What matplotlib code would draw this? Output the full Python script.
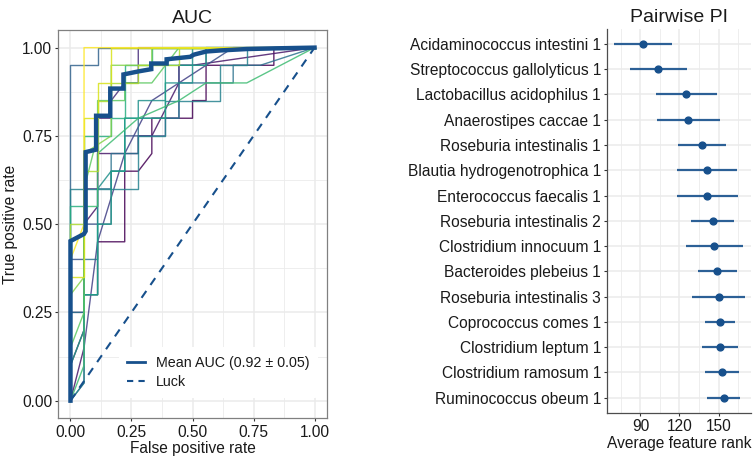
import numpy as np
import matplotlib.pyplot as plt
from matplotlib.ticker import MultipleLocator

plt.rcParams['font.family'] = ['Liberation Sans', 'DejaVu Sans']

# ROC curves of the single folds, in counts (18 negatives, 20 positives)
n_neg, n_pos = 18, 20
fold_fp = [
    [0, 0, 1, 1, 2, 2, 4, 4, 5, 6, 6, 9, 9, 10, 10, 15, 15, 18],
    [0, 1, 1, 2, 2, 5, 5, 6, 8, 8, 9, 18],
    [0, 0, 1, 1, 2, 2, 3, 3, 4, 5, 5, 18],
    [0, 1, 1, 2, 2, 4, 4, 6, 6, 10, 10, 18],
    [0, 0, 1, 1, 3, 3, 4, 4, 7, 7, 8, 8, 10, 12, 18],
    [0, 0, 2, 2, 18],
    [0, 0, 1, 1, 2, 2, 3, 3, 5, 5, 8, 8, 12, 12, 14, 18],
    [0, 0, 5, 5, 7, 7, 11, 11, 13, 13, 18],
    [0, 1, 1, 2, 2, 3, 4, 4, 5, 5, 7, 7, 9, 9, 18],
    [0, 0, 1, 1, 2, 2, 3, 3, 4, 4, 7, 7, 10, 10, 18],
    [0, 0, 1, 1, 3, 3, 4, 4, 6, 6, 18],
    [0, 1, 1, 2, 2, 5, 8, 10, 13, 18],
    [0, 0, 1, 1, 2, 2, 4, 4, 6, 8, 18],
    [0, 0, 1, 1, 3, 3, 6, 6, 18],
    [0, 0, 1, 1, 2, 2, 3, 3, 5, 5, 8, 8, 18],
    [0, 0, 1, 1, 2, 2, 3, 3, 18],
    [0, 0, 1, 1, 18],
]
fold_tp = [
    [0, 2, 4, 6, 6, 9, 9, 13, 13, 14, 16, 16, 17, 17, 19, 19, 20, 20],
    [0, 3, 10, 11, 14, 14, 15, 15, 18, 19, 19, 20],
    [0, 5, 5, 12, 12, 16, 16, 17, 18, 18, 20, 20],
    [0, 1, 3, 9, 9, 14, 14, 17, 17, 19, 20, 20],
    [0, 8, 8, 10, 10, 13, 13, 15, 15, 16, 16, 19, 19, 20, 20],
    [0, 19, 19, 20, 20],
    [0, 5, 5, 8, 8, 12, 12, 14, 14, 16, 16, 18, 18, 19, 19, 20],
    [0, 12, 12, 15, 15, 17, 17, 19, 19, 20, 20],
    [0, 1, 6, 6, 12, 13, 13, 16, 16, 17, 17, 18, 18, 20, 20],
    [0, 2, 4, 6, 6, 10, 10, 13, 13, 16, 16, 19, 19, 20, 20],
    [0, 11, 11, 15, 15, 16, 16, 19, 19, 20, 20],
    [0, 2, 11, 11, 14, 16, 17, 18, 18, 20],
    [0, 3, 5, 12, 15, 17, 17, 18, 18, 20, 20],
    [0, 6, 7, 14, 15, 19, 19, 20, 20],
    [0, 10, 10, 13, 13, 17, 17, 18, 18, 19, 19, 20, 20],
    [0, 7, 7, 16, 16, 18, 18, 20, 20],
    [0, 8, 10, 20, 20],
]

mean_fpr = [0, 0, 0.055, 0.062, 0.062, 0.105, 0.105, 0.163, 0.163, 0.217, 0.217,
            0.281, 0.331, 0.331, 0.394, 0.394, 0.491, 0.505, 0.556, 0.613, 0.722, 0.844, 1.0]
mean_tpr = [0, 0.452, 0.472, 0.48, 0.704, 0.711, 0.807, 0.807, 0.884, 0.884, 0.924,
            0.933, 0.939, 0.955, 0.955, 0.967, 0.974, 0.98, 0.989, 0.992, 0.996, 0.998, 1.0]
mean_auc, sd_auc = 0.92, 0.05

features = ['Acidaminococcus intestini 1', 'Streptococcus gallolyticus 1',
            'Lactobacillus acidophilus 1', 'Anaerostipes caccae 1',
            'Roseburia intestinalis 1', 'Blautia hydrogenotrophica 1',
            'Enterococcus faecalis 1', 'Roseburia intestinalis 2',
            'Clostridium innocuum 1', 'Bacteroides plebeius 1',
            'Roseburia intestinalis 3', 'Coprococcus comes 1',
            'Clostridium leptum 1', 'Clostridium ramosum 1', 'Ruminococcus obeum 1']
rank_mean = [92.0, 103.9, 124.9, 126.4, 137.1, 141.2, 141.5, 145.5,
             146.8, 149.1, 150.1, 150.9, 151.1, 152.6, 154.2]
rank_low = [69.6, 82.0, 101.7, 102.5, 118.9, 118.2, 117.8, 128.9,
            125.0, 134.0, 129.7, 139.4, 137.1, 139.4, 141.5]
rank_high = [114.2, 126.0, 148.8, 151.1, 155.4, 164.2, 165.0, 161.9,
             168.7, 164.2, 170.3, 162.7, 165.0, 165.8, 166.5]

blue = '#17508c'
grid_c = '#ebebeb'
txt_c = '#1a1a1a'
fs = 11.2

fig = plt.figure(figsize=(7.53, 4.57), dpi=100)

# ---- left: ROC ----
ax = fig.add_axes([0.0774, 0.0847, 0.3565, 0.8497])
colors = plt.cm.viridis(np.linspace(0, 1, len(fold_fp)))
for fp, tp, c in zip(fold_fp, fold_tp, colors):
    ax.plot(np.array(fp) / n_neg, np.array(tp) / n_pos, color=c, lw=1.0, alpha=0.85, zorder=2)
ax.plot([0, 1], [0, 1], ls=(0, (4, 3.5)), color=blue, lw=1.5, zorder=3)
ax.plot(mean_fpr, mean_tpr, color=blue, lw=3.2, solid_joinstyle='miter', zorder=4)
# legend keys
ax.plot([], [], color=blue, lw=2.0, label=f'Mean AUC ({mean_auc:.2f} \u00b1 {sd_auc:.2f})')
ax.plot([], [], ls=(0, (3, 2.5)), color=blue, lw=1.5, label='Luck')
leg = ax.legend(loc='lower right', bbox_to_anchor=(0.995, 0.035),
                frameon=True, fontsize=10.3, handlelength=1.2, borderpad=0.6,
                labelspacing=0.35, handletextpad=0.8)
leg.get_frame().set_facecolor('white')
leg.get_frame().set_edgecolor('none')
leg.get_frame().set_alpha(1)
for t in leg.get_texts():
    t.set_color(txt_c)
ax.set_xlim(-0.05, 1.05)
ax.set_ylim(-0.05, 1.05)
ax.xaxis.set_major_locator(MultipleLocator(0.25))
ax.yaxis.set_major_locator(MultipleLocator(0.25))
ax.xaxis.set_minor_locator(MultipleLocator(0.125))
ax.yaxis.set_minor_locator(MultipleLocator(0.125))
ax.xaxis.set_major_formatter(lambda v, p: f'{v:.2f}')
ax.yaxis.set_major_formatter(lambda v, p: f'{v:.2f}')
ax.grid(which='major', color=grid_c, lw=1.1, zorder=0)
ax.grid(which='minor', color=grid_c, lw=0.6, zorder=0)
ax.set_axisbelow(True)
ax.tick_params(which='major', length=2.5, width=0.8, color='#333333',
               labelsize=fs, labelcolor=txt_c, pad=2)
ax.tick_params(which='minor', length=0)
for s in ax.spines.values():
    s.set_color('#808080')
    s.set_linewidth(0.9)
ax.set_xlabel('False positive rate', fontsize=fs, color=txt_c, labelpad=1)
ax.set_ylabel('True positive rate', fontsize=fs, color=txt_c, labelpad=3)
ax.set_title('AUC', fontsize=14, color=txt_c, pad=5)

# ---- right: pairwise PI ----
ax2 = fig.add_axes([0.8065, 0.0965, 0.1915, 0.8405])
y = np.arange(len(features))
ax2.hlines(y, rank_low, rank_high, color=blue, lw=1.6, alpha=0.9, zorder=3)
ax2.scatter(rank_mean, y, s=24, color=blue, zorder=4)
ax2.set_yticks(y)
ax2.set_yticklabels(features)
ax2.set_ylim(len(features) - 0.4, -0.6)
ax2.set_xlim(64.6, 175.3)
ax2.set_xticks([90, 120, 150])
ax2.xaxis.set_minor_locator(MultipleLocator(30, offset=15))
ax2.grid(axis='x', which='major', color=grid_c, lw=1.1, zorder=0)
ax2.grid(axis='x', which='minor', color=grid_c, lw=0.6, zorder=0)
ax2.grid(axis='y', which='major', color=grid_c, lw=1.1, zorder=0)
ax2.set_axisbelow(True)
ax2.tick_params(which='major', length=2.5, width=0.8, color='#333333',
                labelsize=fs, labelcolor=txt_c, pad=2)
ax2.tick_params(which='minor', length=0)
for side in ['top', 'right']:
    ax2.spines[side].set_visible(False)
for side in ['left', 'bottom']:
    ax2.spines[side].set_color('#4d4d4d')
    ax2.spines[side].set_linewidth(0.9)
ax2.set_xlabel('Average feature rank', fontsize=fs, color=txt_c, labelpad=1)
ax2.set_title('Pairwise PI', fontsize=14, color=txt_c, pad=5)

fig.savefig('out.png', dpi=100)
